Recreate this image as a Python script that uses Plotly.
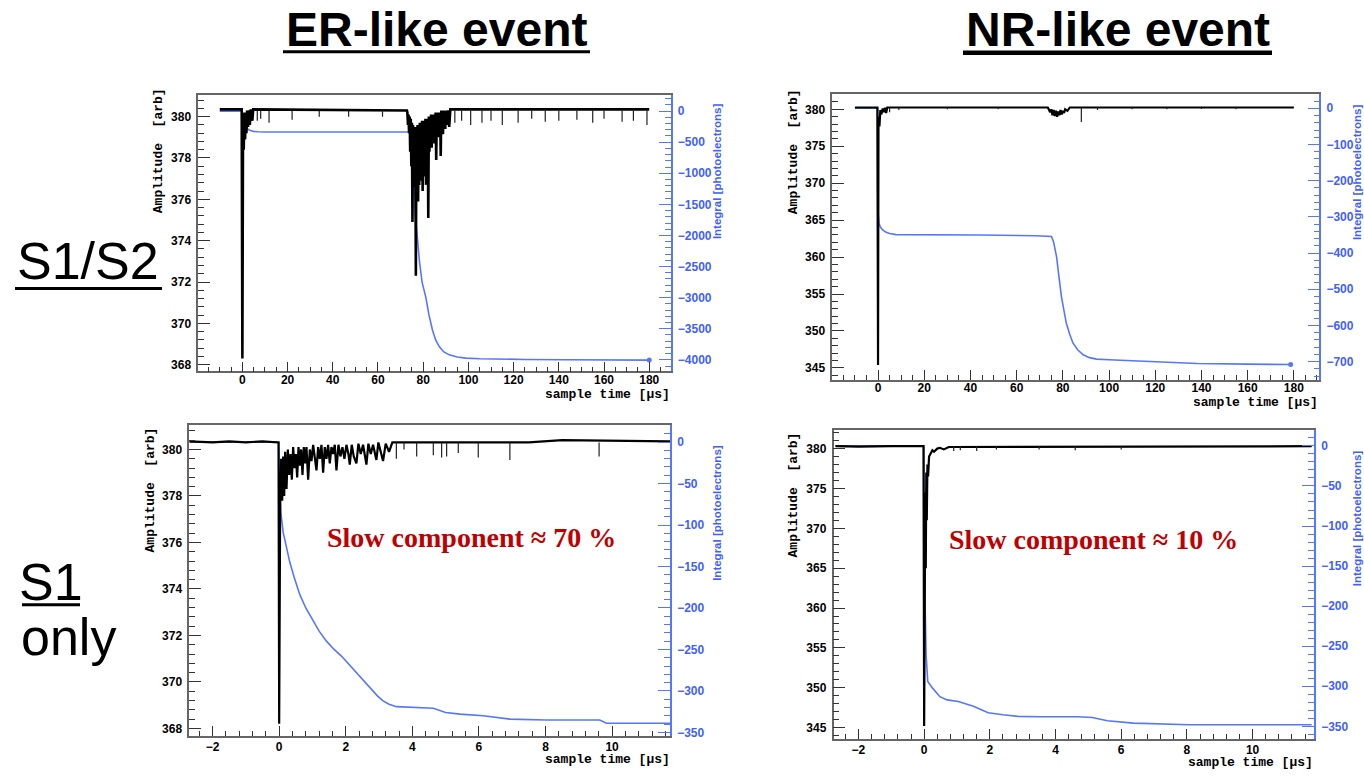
import plotly.graph_objects as go

# ---------------- data ----------------
# Panel 1: ER-like S1/S2 waveform (sample time [us], amplitude [arb])
er_s2_t = [-10, -0.3, 0, 0.3, 0.6, 0.9, 1.2, 1.5, 1.8, 2.1,
           2.5, 2.9, 3.3, 3.7, 4.4, 4.8, 72.8,
           73.0, 73.25, 73.5, 73.75, 74.0, 74.25, 74.5, 74.75, 75.0, 75.25,
           75.5, 75.75, 76.0, 76.25, 76.5, 76.75, 77.0, 77.25, 77.5, 77.75,
           78.0, 78.25, 78.5, 78.75, 79.0, 79.25, 79.5, 79.75, 80.0, 80.25,
           80.5, 80.75, 81.0, 81.25, 81.5, 81.75, 82.0, 82.25, 82.5, 82.75,
           83.0, 83.25, 83.5, 83.75, 84.0, 84.25, 84.5, 84.75, 85.0, 85.25,
           85.5, 85.75, 86.0, 86.25, 86.5, 86.75, 87.0, 87.25, 87.5, 87.75,
           88.0, 88.25, 88.5, 88.75, 89.0, 89.25, 89.5, 89.75, 90.0, 90.5,
           91.0, 91.5, 92.0, 180]
er_s2_amp = [380.35, 380.35, 368.3, 380.1, 378.4, 380.2, 378.9, 380.2, 379.2, 380.3,
             379.5, 380.3, 379.6, 380.35, 379.8, 380.35, 380.3,
             380.2, 379.6, 380.1, 379.2, 380.0, 378.3, 379.9, 377.6, 379.7, 374.9,
             379.6, 376.8, 379.5, 376.6, 379.4, 372.3, 379.5, 376.7, 379.6, 375.9,
             379.6, 376.7, 379.7, 376.9, 379.6, 377.0, 379.8, 376.4, 379.7, 377.1,
             379.8, 377.4, 379.9, 376.7, 379.8, 377.3, 379.9, 375.1, 380.0, 378.3,
             380.0, 378.6, 380.1, 378.5, 380.0, 378.9, 380.1, 378.7, 380.1, 379.1,
             380.2, 377.9, 380.1, 379.2, 380.2, 379.0, 380.2, 379.3, 380.2, 378.1,
             380.3, 379.3, 380.2, 379.15, 380.3, 379.5, 380.3, 379.4, 380.3, 379.6,
             380.3, 379.5, 380.35, 380.35]
er_s2_base = 380.3
er_s2_spike_t = [6.6, 8.1, 11.8, 22, 34, 47, 62, 94, 97, 101, 106, 110,
                 115, 122, 128, 134, 140, 148, 155, 160, 168, 173, 179]
er_s2_spike_amp = [379.8, 379.9, 379.7, 379.85, 380.0, 380.0, 380.0, 379.7, 379.8, 379.6, 379.7, 379.8,
                   379.6, 379.7, 379.9, 379.75, 379.8, 379.85, 379.7, 379.9, 379.75, 379.8, 379.6]
er_s2_int_t = [-10, -0.1, 0.2, 0.6, 1.0, 1.5, 2.0, 3.0, 4.0, 5.0,
               7.0, 10, 30, 50, 74.5, 75.3, 76.0, 76.5, 77.3, 78.3,
               79.5, 81.2, 82.5, 84.1, 85.5, 87.1, 89, 91.5, 95, 98.9,
               105, 113.6, 125, 143, 160, 180]
er_s2_int = [0, 0, -60, -140, -200, -245, -275, -305, -320, -328,
             -333, -335, -335, -335, -336, -360, -900, -1650, -2000, -2400,
             -2750, -3000, -3270, -3520, -3680, -3786, -3870, -3920, -3955, -3973,
             -3982, -3989, -3994, -4000, -4003, -4005]

# Panel 2: NR-like S1/S2
nr_s2_t = [-10, -0.3, 0, 0.2, 0.6, 1.0, 1.4, 2.0, 2.5, 3.0,
           3.5, 4.0, 73.5, 74.5, 75, 75.5, 76, 76.5, 77, 77.5,
           78, 78.5, 79, 79.5, 80, 80.5, 81, 82, 83, 180]
nr_s2_amp = [380.25, 380.25, 345.4, 379.0, 377.7, 379.9, 379.3, 380.1, 379.6, 380.2,
             379.5, 380.25, 380.25, 379.6, 380.0, 379.2, 379.9, 379.1, 379.8, 379.0,
             379.7, 379.2, 379.9, 379.3, 379.8, 379.5, 380.0, 379.8, 380.25, 380.25]
nr_s2_base = 380.25
nr_s2_spike_t = [5.0, 9, 30, 52, 88, 95, 110, 125, 140, 155]
nr_s2_spike_amp = [379.6, 379.9, 380.0, 380.0, 378.3, 379.9, 380.0, 380.0, 380.05, 380.0]
nr_s2_int_t = [-10, -0.1, 0.05, 0.4, 1.0, 2.0, 3.3, 5.0, 7.8, 15,
               22, 43.8, 68.4, 74.5, 75.1, 76, 77.3, 78.3, 79.4, 80.5,
               81.5, 83, 84.4, 86.5, 88.8, 91.5, 94.6, 100, 109.1, 125,
               138, 160, 178.6]
nr_s2_int = [0, 0, -290, -318, -328, -336, -342, -346, -349, -349,
             -349, -350, -352, -352, -354, -370, -411, -465, -521, -560,
             -594, -625, -649, -668, -681, -689, -693, -695, -697, -701,
             -705, -707, -708]

# Panel 3: ER-like S1 only
er_s1_t = [-2.7, -2.0, -1.5, -1.0, -0.5, -0.02, 0.0, 0.03, 0.06, 0.09,
           0.12, 0.15, 0.18, 0.22, 0.26, 0.30, 0.34, 0.38, 0.42, 0.46,
           0.50, 0.54, 0.58, 0.62, 0.66, 0.70, 0.74, 0.78, 0.82, 0.87,
           0.92, 0.97, 1.02, 1.07, 1.12, 1.17, 1.22, 1.27, 1.32, 1.37,
           1.42, 1.47, 1.52, 1.57, 1.62, 1.67, 1.72, 1.78, 1.84, 1.90,
           1.96, 2.02, 2.08, 2.12, 2.18, 2.24, 2.32, 2.38, 2.45, 2.52,
           2.62, 2.68, 2.75, 2.82, 2.92, 2.98, 3.05, 3.12, 3.2, 3.3,
           3.4, 7.5, 8.5, 11.74]
er_s1_amp = [380.35, 380.3, 380.35, 380.3, 380.35, 380.3, 368.2, 377.9, 379.6, 377.8,
             379.7, 378.0, 379.9, 378.3, 380.0, 378.9, 379.8, 378.7, 380.1, 379.2,
             379.8, 378.8, 380.1, 379.3, 380.0, 378.9, 380.1, 379.4, 380.1, 378.7,
             380.0, 379.5, 380.2, 379.6, 379.1, 380.1, 379.6, 380.2, 379.0, 380.1,
             379.6, 380.2, 379.4, 380.1, 379.8, 380.2, 379.1, 380.2, 379.7, 380.1,
             379.6, 380.2, 379.8, 379.35, 380.2, 379.7, 379.4, 380.25, 379.8, 380.2,
             379.35, 380.25, 379.8, 380.2, 379.55, 380.3, 379.9, 379.5, 380.25, 379.9,
             380.3, 380.3, 380.4, 380.35]
er_s1_base = 380.3
er_s1_spike_t = [3.52, 3.75, 4.13, 4.63, 4.88, 5.03, 5.38, 5.98, 6.93, 9.61]
er_s1_spike_amp = [379.6, 380.0, 379.7, 379.75, 379.65, 379.7, 379.85, 379.65, 379.55, 379.7]
er_s1_int_t = [-2.7, -0.01, 0.0, 0.02, 0.05, 0.12, 0.2, 0.32, 0.45, 0.62,
               0.8, 1.02, 1.2, 1.42, 1.65, 1.87, 2.05, 2.22, 2.45, 2.72,
               2.95, 3.12, 3.3, 3.52, 3.92, 4.63, 5.0, 5.43, 6.13, 6.93,
               8.0, 9.63, 9.83, 11.74]
er_s1_int = [0, 0, -20, -60, -85, -109, -125, -145, -163, -184,
             -200, -216, -228, -240, -250, -258, -266, -274, -285, -296,
             -306, -312, -316, -319, -320, -321, -326, -328, -330, -334,
             -335, -335, -339, -339]

# Panel 4: NR-like S1 only
nr_s1_t = [-2.7, -2.0, -1.0, -0.02, 0.0, 0.02, 0.035, 0.05, 0.065, 0.08,
           0.1, 0.12, 0.15, 0.2, 0.25, 0.3, 0.4, 0.48, 0.6, 0.75, 11.8]
nr_s1_amp = [380.3, 380.25, 380.3, 380.3, 345.2, 362.4, 374.5, 365.0, 377.0, 371.0,
             378.0, 376.5, 379.0, 379.4, 379.8, 379.6, 380.0, 380.1, 379.9, 380.2, 380.3]
nr_s1_base = 380.3
nr_s1_spike_t = [0.9, 1.1, 1.6, 2.2, 3.5, 4.6, 6.0]
nr_s1_spike_amp = [379.7, 379.8, 379.7, 379.9, 379.9, 379.8, 379.9]
nr_s1_int_t = [-2.7, -0.01, 0.0, 0.02, 0.06, 0.11, 0.25, 0.48, 0.70, 1.04,
               1.5, 1.95, 2.4, 2.86, 3.5, 4.67, 5.12, 5.58, 6.37, 7.05,
               8.07, 10, 11.8]
nr_s1_int = [0, 0, -60, -178, -261, -294, -302, -313, -317, -319,
             -325, -333, -335.5, -337.6, -338, -338, -339, -343, -346, -347,
             -348, -348, -348]

column_titles = ["ER-like event", "NR-like event"]
row_titles = ["S1/S2", "S1", "only"]
slow_labels = ["Slow component \u2248 70 %", "Slow component \u2248 10 %"]

# ---------------- layout helpers ----------------
W, H = 1364, 776
def PX(x):
    return x / W
def PY(y):
    return 1 - y / H

BLUE = "#5577ff"
BLUE_AX = "#3f5fff"
FRAME = "#666666"

frames = [(198.3, 670.7, 95, 373.3), (832.3, 1319.3, 94.3, 381.7),
          (189.3, 670, 427.7, 739.5), (833.5, 1314, 432.5, 743)]
xranges = [[-19.5, 189.5], [-19.8, 191], [-2.7, 11.74], [-2.76, 11.87]]
xticks = [(20, 5), (20, 5), (2, 0.4), (2, 0.4)]
x_standoff = [-4, -4, -1, -1]
yl_ranges = [[367.68, 381.07], [343.4, 382.1], [367.69, 381.03], [343.55, 382.3]]
yl_ticks = [(2, 0.4), (5, 1), (2, 0.4), (5, 1)]
yr_ranges = [[-4186, 267], [-750, 40], [-354, 20], [-366, 19.5]]
yr_ticks = [(500, 100), (100, 20), (50, 10), (50, 10)]
wave_width = [2.6, 2.2, 2.2, 2.2]
end_marker = [True, True, False, False]

waves = [(er_s2_t, er_s2_amp), (nr_s2_t, nr_s2_amp), (er_s1_t, er_s1_amp), (nr_s1_t, nr_s1_amp)]
spikes = [(er_s2_base, er_s2_spike_t, er_s2_spike_amp), (nr_s2_base, nr_s2_spike_t, nr_s2_spike_amp),
          (er_s1_base, er_s1_spike_t, er_s1_spike_amp), (nr_s1_base, nr_s1_spike_t, nr_s1_spike_amp)]
integrals = [(er_s2_int_t, er_s2_int), (nr_s2_int_t, nr_s2_int),
             (er_s1_int_t, er_s1_int), (nr_s1_int_t, nr_s1_int)]

fig = go.Figure()
layout = {}
tickfont = dict(family="Liberation Sans", size=12, color="black", weight="bold")
tickfont_b = dict(family="Liberation Sans", size=12, color=BLUE_AX, weight="bold")

for i in range(4):
    n = i + 1
    xname = "x" if n == 1 else f"x{n}"
    xkey = "xaxis" if n == 1 else f"xaxis{n}"
    yr_idx = 2 * i + 1
    yl_idx = 2 * i + 2
    yr_name = "y" if yr_idx == 1 else f"y{yr_idx}"
    yr_key = "yaxis" if yr_idx == 1 else f"yaxis{yr_idx}"
    yl_name = f"y{yl_idx}"
    yl_key = f"yaxis{yl_idx}"
    l, r, t, b = frames[i]
    layout[xkey] = dict(
        domain=[PX(l), PX(r)], range=xranges[i], anchor=yr_name,
        showgrid=False, zeroline=False, showline=True, mirror=True,
        linecolor=FRAME, linewidth=1.5, ticks="inside", ticklen=10,
        tickcolor="#333", tickwidth=1.2, dtick=xticks[i][0], tick0=0,
        minor=dict(dtick=xticks[i][1], tick0=0, ticks="inside", ticklen=5,
                   tickcolor="#333", showgrid=False),
        tickfont=tickfont, ticklabelstandoff=x_standoff[i])
    layout[yr_key] = dict(
        domain=[PY(b), PY(t)], range=yr_ranges[i], anchor=xname, side="right",
        showgrid=False, zeroline=False, showline=True, linecolor=BLUE,
        linewidth=1.5, ticks="inside", ticklen=12, tickcolor=BLUE, tickwidth=1.2,
        dtick=yr_ticks[i][0], tick0=0,
        minor=dict(dtick=yr_ticks[i][1], tick0=0, ticks="inside", ticklen=6,
                   tickcolor=BLUE, showgrid=False),
        tickfont=tickfont_b, ticklabelstandoff=3)
    layout[yl_key] = dict(
        range=yl_ranges[i], anchor=xname, side="left", overlaying=yr_name,
        showgrid=False, zeroline=False, showline=True, linecolor=FRAME,
        linewidth=1.5, ticks="inside", ticklen=12, tickcolor="#333", tickwidth=1.2,
        dtick=yl_ticks[i][0], tick0=0,
        minor=dict(dtick=yl_ticks[i][1], tick0=0, ticks="inside", ticklen=6,
                   tickcolor="#333", showgrid=False),
        tickfont=tickfont, ticklabelstandoff=3)
    it, iv = integrals[i]
    fig.add_trace(go.Scatter(x=it, y=iv, mode="lines", xaxis=xname, yaxis=yr_name,
                             line=dict(color=BLUE, width=1.6), hoverinfo="skip"))
    if end_marker[i]:
        fig.add_trace(go.Scatter(x=[it[-1]], y=[iv[-1]], mode="markers", xaxis=xname,
                                 yaxis=yr_name, marker=dict(color=BLUE, size=5),
                                 hoverinfo="skip"))
    wt, wa = waves[i]
    fig.add_trace(go.Scatter(x=wt, y=wa, mode="lines", xaxis=xname, yaxis=yl_name,
                             line=dict(color="black", width=wave_width[i]), hoverinfo="skip"))
    base, st, sa = spikes[i]
    sx, sy = [], []
    for tt, aa in zip(st, sa):
        sx += [tt, tt, None]
        sy += [base, aa, None]
    fig.add_trace(go.Scatter(x=sx, y=sy, mode="lines", xaxis=xname, yaxis=yl_name,
                             line=dict(color="#222", width=1.2), hoverinfo="skip"))

annotations = []
def ann(text, x, y, size, family, color="black", weight="normal", angle=0,
        xanchor="center", yanchor="middle"):
    annotations.append(dict(text=text, x=PX(x), y=PY(y), xref="paper", yref="paper",
                            showarrow=False, textangle=angle, xanchor=xanchor,
                            yanchor=yanchor,
                            font=dict(family=family, size=size, color=color, weight=weight)))

ann(column_titles[0], 436, 30, 48, "Liberation Sans", weight="bold")
ann(column_titles[1], 1118, 30, 48, "Liberation Sans", weight="bold")
ann(row_titles[0], 88, 262, 52, "Liberation Sans")
ann(row_titles[1], 51, 585, 52, "Liberation Sans")
ann(row_titles[2], 68, 640, 52, "Liberation Sans")

amp_pos = [(158, 152), (793, 153), (150, 493), (793, 498)]
int_pos = [(717, 172), (1357, 173), (717.5, 516), (1357, 521)]
st_pos = [(672, 397), (1320, 405), (672, 763), (1315, 766)]
for i in range(4):
    ann("Amplitude  [arb]", amp_pos[i][0], amp_pos[i][1], 13, "Liberation Mono",
        weight="bold", angle=-90)
    ann("Integral [photoelectrons]", int_pos[i][0], int_pos[i][1], 11.5, "Liberation Sans",
        color=BLUE_AX, weight="bold", angle=-90)
    ann("sample time [\u00b5s]", st_pos[i][0], st_pos[i][1], 13, "Liberation Mono",
        weight="bold", xanchor="right")

ann(slow_labels[0], 471.5, 540, 28, "Liberation Serif", color="#c00000", weight="bold")
ann(slow_labels[1], 1093, 542, 28, "Liberation Serif", color="#c00000", weight="bold")

shapes = []
def uline(x0, x1, y, w):
    shapes.append(dict(type="line", xref="paper", yref="paper", x0=PX(x0), x1=PX(x1),
                       y0=PY(y), y1=PY(y), line=dict(color="black", width=w)))
uline(283, 590, 52, 3)
uline(963, 1272, 53, 4.5)
uline(15, 162, 290, 3)
uline(22, 80, 608, 3)

fig.update_layout(**layout)
fig.update_layout(width=W, height=H, margin=dict(l=0, r=0, t=0, b=0),
                  paper_bgcolor="white", plot_bgcolor="white", showlegend=False,
                  annotations=annotations, shapes=shapes)
fig.write_html("out.html")
